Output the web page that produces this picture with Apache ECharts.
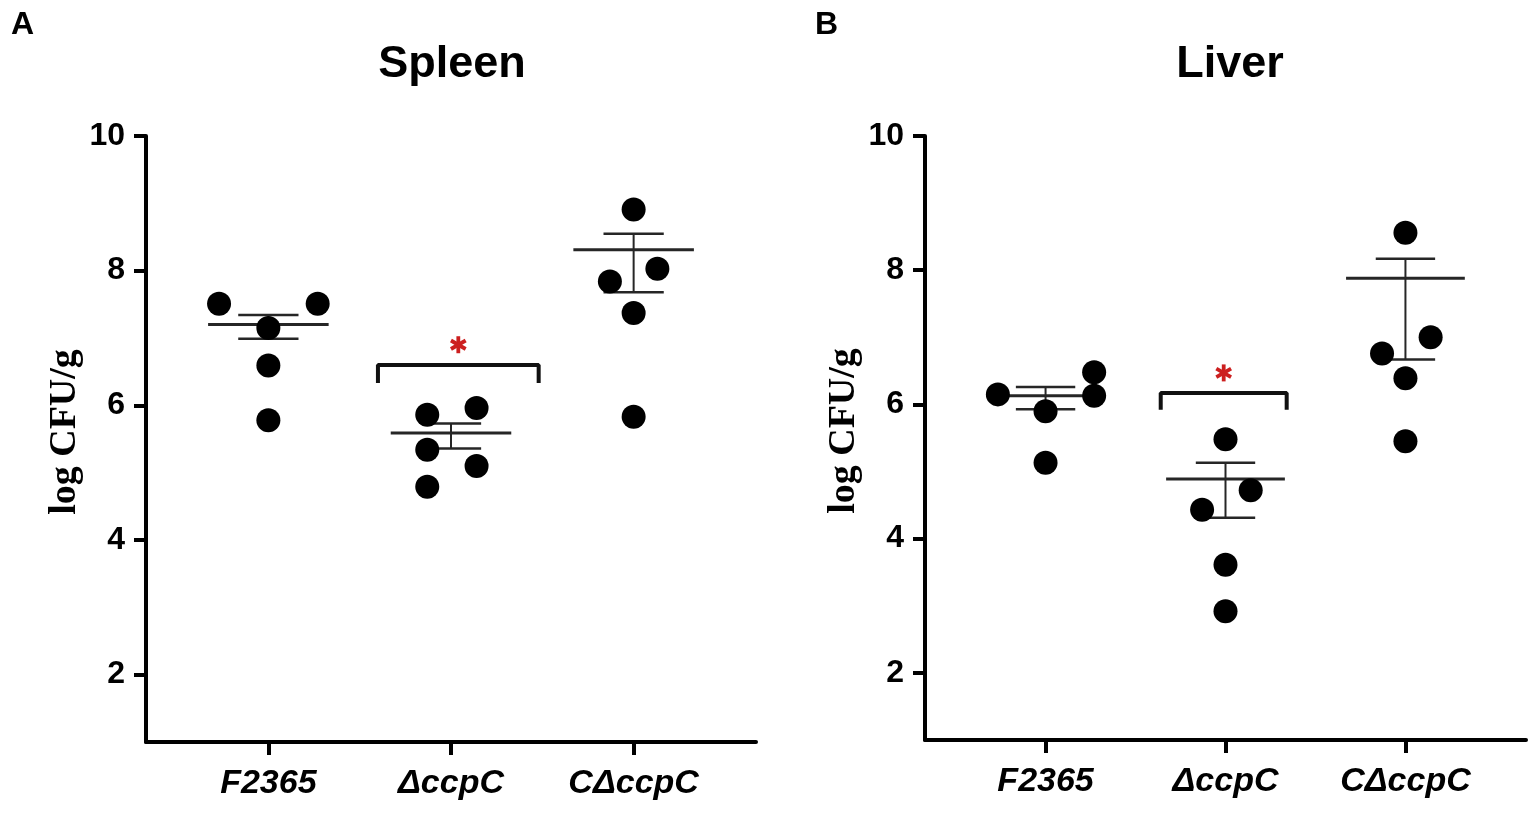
<!DOCTYPE html>
<html>
<head>
<meta charset="utf-8">
<script src="https://cdn.jsdelivr.net/npm/echarts@6/dist/echarts.min.js"></script>
<style>
  html, body { margin: 0; padding: 0; background: #fff; }
  #main { width: 1535px; height: 818px; }
</style>
</head>
<body>
<div id="main"></div>
<script>
// groups on the x axis
var categories = ['F2365', '\u0394ccpC', 'C\u0394ccpC'];
var yTicks = [2, 4, 6, 8, 10];

// spleen, log CFU/g per animal
var spleenValues = [
  [7.51, 7.51, 7.15, 6.59, 5.78],
  [5.86, 5.96, 5.34, 5.10, 4.79],
  [8.91, 8.03, 7.84, 7.37, 5.83]
];
var spleenJitter = [
  [-0.27, 0.27, 0, 0, 0],
  [-0.13, 0.14, -0.13, 0.14, -0.13],
  [0, 0.13, -0.13, 0, 0]
];
var spleenMean = [7.20, 5.59, 8.31];
var spleenUpper = [7.34, 5.73, 8.55];
var spleenLower = [6.99, 5.36, 7.68];
var spleenBracketX = [1.60, 2.48];
var spleenBracketY = [6.33, 6.60];
var spleenStarY = 6.90;

// liver
var liverValues = [
  [6.15, 6.48, 6.13, 5.90, 5.13],
  [5.48, 4.72, 4.43, 3.61, 2.92],
  [8.56, 7.00, 6.76, 6.39, 5.45]
];
var liverJitter = [
  [-0.265, 0.27, 0.27, 0, 0],
  [0, 0.14, -0.13, 0, 0],
  [0, 0.14, -0.13, 0, 0]
];
var liverMean = [6.13, 4.89, 7.88];
var liverUpper = [6.26, 5.13, 8.17];
var liverLower = [5.93, 4.31, 6.67];
var liverBracketX = [1.64, 2.34];
var liverBracketY = [5.92, 6.17];
var liverStarY = 6.47;

var sansFont = "'Liberation Sans', Arial, sans-serif";
var serifFont = "'Liberation Serif', 'Times New Roman', serif";

function dots(values, jitter) {
  var out = [];
  values.forEach(function (arr, g) {
    arr.forEach(function (v, i) { out.push([g + 1 + jitter[g][i], v]); });
  });
  return out;
}

function sem(mean, upper, lower) {
  return mean.map(function (m, g) { return [g + 1, m, upper[g], lower[g]]; });
}

function renderSem(params, api) {
  var x = api.value(0), m = api.value(1), hi = api.value(2), lo = api.value(3);
  var c = '#262626';
  function seg(a, b, w) {
    var p1 = api.coord(a), p2 = api.coord(b);
    return { type: 'line', shape: { x1: p1[0], y1: p1[1], x2: p2[0], y2: p2[1] },
      style: { stroke: c, lineWidth: w } };
  }
  return { type: 'group', children: [
    seg([x - 0.33, m], [x + 0.33, m], 3),
    seg([x, lo], [x, hi], 2),
    seg([x - 0.165, hi], [x + 0.165, hi], 2.5),
    seg([x - 0.165, lo], [x + 0.165, lo], 2.5)
  ] };
}

// six-spoke red asterisk
function renderStar(params, api) {
  var p = api.coord([api.value(0), api.value(1)]);
  var r = 8.5;
  var kids = [90, 30, 150].map(function (deg) {
    var a = deg * Math.PI / 180, dx = r * Math.cos(a), dy = r * Math.sin(a);
    return { type: 'line', shape: { x1: p[0] - dx, y1: p[1] - dy, x2: p[0] + dx, y2: p[1] + dy },
      style: { stroke: '#cc1f1f', lineWidth: 3.8 } };
  });
  return { type: 'group', children: kids };
}

function xAxis(idx) {
  return {
    type: 'value', gridIndex: idx, min: 0.33, max: 3.67,
    splitLine: { show: false },
    axisLine: { lineStyle: { color: '#000', width: 4 } },
    axisTick: { customValues: [1, 2, 3], length: 13, lineStyle: { color: '#000', width: 4 } },
    axisLabel: {
      customValues: [1, 2, 3], margin: 25,
      formatter: function (v) { return categories[Math.round(v) - 1]; },
      fontFamily: sansFont, fontWeight: 'bold', fontStyle: 'italic', fontSize: 34, color: '#000'
    }
  };
}

function yAxis(idx) {
  return {
    type: 'value', gridIndex: idx, min: 1, max: 10,
    name: 'log CFU/g', nameLocation: 'middle', nameGap: 62, nameRotate: 90,
    nameTextStyle: { fontFamily: serifFont, fontWeight: 'bold', fontSize: 38, color: '#000', padding: [0, 0, 0, 14] },
    splitLine: { show: false },
    axisLine: { lineStyle: { color: '#000', width: 4 } },
    axisTick: { customValues: yTicks, length: 12, lineStyle: { color: '#000', width: 4 } },
    axisLabel: {
      customValues: yTicks, margin: 21,
      fontFamily: sansFont, fontWeight: 'bold', fontSize: 32, color: '#000'
    }
  };
}

function panelSeries(idx, values, jitter, mean, upper, lower, bx, by, starY) {
  return [
    {
      type: 'custom', xAxisIndex: idx, yAxisIndex: idx, z: 2,
      renderItem: renderSem, data: sem(mean, upper, lower)
    },
    {
      type: 'line', xAxisIndex: idx, yAxisIndex: idx, z: 3, symbol: 'none',
      lineStyle: { color: '#111', width: 4 },
      data: [[bx[0], by[0]], [bx[0], by[1]], [bx[1], by[1]], [bx[1], by[0]]]
    },
    {
      type: 'custom', xAxisIndex: idx, yAxisIndex: idx, z: 3,
      renderItem: renderStar,
      data: [[(bx[0] + bx[1]) / 2, starY]]
    },
    {
      type: 'scatter', xAxisIndex: idx, yAxisIndex: idx, z: 4, symbolSize: 24,
      itemStyle: { color: '#000', opacity: 1 },
      data: dots(values, jitter)
    }
  ];
}

var chart = echarts.init(document.getElementById('main'));
chart.setOption({
  backgroundColor: '#fff',
  animation: false,
  title: [
    { text: 'A', left: 6, top: 4, textStyle: { fontFamily: sansFont, fontWeight: 'bold', fontSize: 32, color: '#000' } },
    { text: 'B', left: 810, top: 4, textStyle: { fontFamily: sansFont, fontWeight: 'bold', fontSize: 32, color: '#000' } },
    { text: 'Spleen', left: 447, top: 37, textAlign: 'center', textStyle: { fontFamily: sansFont, fontWeight: 'bold', fontSize: 45, color: '#000' } },
    { text: 'Liver', left: 1225, top: 37, textAlign: 'center', textStyle: { fontFamily: sansFont, fontWeight: 'bold', fontSize: 45, color: '#000' } }
  ],
  grid: [
    { left: 146, top: 136, width: 610, height: 606 },
    { left: 925, top: 136, width: 601, height: 604 }
  ],
  xAxis: [xAxis(0), xAxis(1)],
  yAxis: [yAxis(0), yAxis(1)],
  series: panelSeries(0, spleenValues, spleenJitter, spleenMean, spleenUpper, spleenLower,
      spleenBracketX, spleenBracketY, spleenStarY)
    .concat(panelSeries(1, liverValues, liverJitter, liverMean, liverUpper, liverLower,
      liverBracketX, liverBracketY, liverStarY))
});
</script>
</body>
</html>
